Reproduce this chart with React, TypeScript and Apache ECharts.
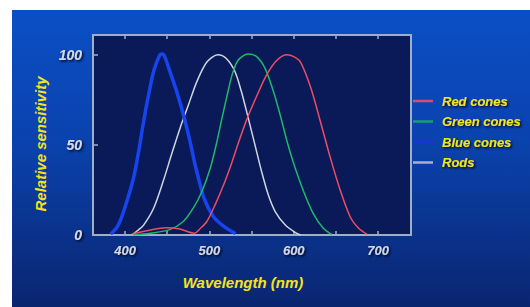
import React, { useEffect, useRef } from "react";
import * as echarts from "echarts";

const seriesNames = ["Red cones", "Green cones", "Blue cones", "Rods"];
const legendColors = ["#dc4a6c", "#1a9c72", "#1a32dc", "#a8b4c4"];
const xTicks = [400, 450, 500, 550, 600, 650, 700];
const xLabels = [400, 500, 600, 700];
const yTicks = [0, 50, 100];

const redCones: number[][] = [
  [408, 0.5], [430, 2.8], [449, 4], [465, 3.3], [482, 1], [490, 4], [497, 7.5], [507, 17],
  [517, 28], [525, 38], [535, 52], [545, 65], [556, 77], [568, 89], [580, 97], [592, 100],
  [600, 99], [608, 96], [620, 82], [631, 64], [643, 43.5], [655, 25], [667, 10], [677, 3.7], [687, 0.3],
];
const greenCones: number[][] = [
  [410, 0], [430, 1], [453, 3], [469, 7.5], [481, 15], [491, 24], [501, 37], [509, 52],
  [515, 65], [521, 77.5], [527, 89], [534, 97], [546, 100.5], [556, 99], [566, 92.5], [576, 79.5],
  [584, 66.5], [592, 52], [600, 39.5], [611, 25], [623, 12], [635, 3.7], [645, 0.3],
];
const blueCones: number[][] = [
  [383, 0.5], [390, 4], [394, 7.5], [402, 18.5], [410, 31.5], [416, 46], [422, 63], [428, 78],
  [434, 91], [441, 99.8], [444, 100.5], [447, 99], [453, 91], [461, 80], [469, 67], [477, 52], [483, 39],
  [489, 28], [494, 20], [505, 10], [518, 4.5], [531, 0.8],
];
const rods: number[][] = [
  [408, 0], [415, 2.5], [422, 5.5], [434, 15], [445, 29.5], [455, 44.5], [465, 59], [475, 72],
  [485, 85], [497, 96], [510, 100], [520, 98], [530, 91], [538, 79.5], [546, 65], [554, 50],
  [562, 35], [570, 22], [578, 13], [590, 5.5], [603, 1], [608, 0],
];

const YELLOW = "#f4e41c";
const LIGHT = "#d4d9e4";
const BORDER = "#9fb0c6";
const shadow = {
  textShadowColor: "rgba(0,0,20,0.9)",
  textShadowBlur: 2,
  textShadowOffsetX: 1.5,
  textShadowOffsetY: 1.5,
};

export default function App() {
  const ref = useRef<HTMLDivElement>(null);
  useEffect(() => {
    if (!ref.current) return;
    const chart = echarts.init(ref.current, null, { renderer: "svg" });
    const font = "Liberation Sans";
    chart.setOption({
      animation: false,
      backgroundColor: {
        type: "linear", x: 0, y: 0, x2: 0, y2: 1,
        colorStops: [
          { offset: 0, color: "#0b4fc6" },
          { offset: 0.45, color: "#0a42ad" },
          { offset: 1, color: "#0a2570" },
        ],
      },
      grid: {
        left: 81, top: 25, width: 318, height: 200,
        show: true, backgroundColor: "#0a1a58", borderColor: BORDER, borderWidth: 2,
      },
      xAxis: [
        {
          type: "value", min: 362, max: 739, position: "bottom",
          axisLine: { show: false },
          splitLine: { show: false },
          axisTick: { show: true, inside: true, length: 4, customValues: xTicks, lineStyle: { color: BORDER, width: 1.5 } },
          axisLabel: {
            customValues: xLabels, margin: 9, color: LIGHT, fontFamily: font,
            fontWeight: "bold", fontStyle: "italic", fontSize: 13, ...shadow,
          },
        },
        {
          type: "value", min: 362, max: 739, position: "top",
          axisLine: { show: false },
          splitLine: { show: false },
          axisTick: { show: true, inside: true, length: 4, customValues: xTicks, lineStyle: { color: BORDER, width: 1.5 } },
          axisLabel: { show: false },
        },
      ],
      yAxis: {
        type: "value", min: 0, max: 111,
        axisLine: { show: false },
        splitLine: { show: false },
        axisTick: { show: true, inside: true, length: 5, customValues: yTicks, lineStyle: { color: BORDER, width: 1.5 } },
        axisLabel: {
          customValues: yTicks, margin: 11, color: LIGHT, fontFamily: font,
          fontWeight: "bold", fontStyle: "italic", fontSize: 14, ...shadow,
        },
      },
      legend: {
        orient: "vertical", left: 396, top: 79.5, itemWidth: 20, itemHeight: 2.5, itemGap: 7.5,
        icon: "rect",
        data: seriesNames.map((name, i) => ({ name, itemStyle: { color: legendColors[i] } })),
        textStyle: {
          color: YELLOW, fontFamily: font, fontWeight: "bold", fontStyle: "italic",
          fontSize: 13, padding: [0, 0, 0, 4], ...shadow,
        },
      },
      graphic: [
        {
          type: "text", x: 28, y: 134, rotation: Math.PI / 2,
          style: {
            text: "Relative sensitivity", fill: YELLOW, font: `italic bold 15px "${font}"`,
            textAlign: "center", textVerticalAlign: "middle",
            shadowColor: "rgba(0,0,20,0.9)", shadowBlur: 2, shadowOffsetX: 1.5, shadowOffsetY: -1.5,
          },
        },
        {
          type: "text", x: 231, y: 272,
          style: {
            text: "Wavelength (nm)", fill: YELLOW, font: `italic bold 15px "${font}"`,
            textAlign: "center", textVerticalAlign: "middle",
            shadowColor: "rgba(0,0,20,0.9)", shadowBlur: 2, shadowOffsetX: 1.5, shadowOffsetY: 1.5,
          },
        },
      ],
      series: [
        { name: "Rods", type: "line", data: rods, symbol: "none", smooth: 0.3, color: "#cfd6de", lineStyle: { width: 1.5, color: "#cfd6de" } },
        { name: "Blue cones", type: "line", data: blueCones, symbol: "none", smooth: 0.3, color: "#1844f0", lineStyle: { width: 3.5, color: "#1844f0" } },
        { name: "Green cones", type: "line", data: greenCones, symbol: "none", smooth: 0.3, color: "#1fb866", lineStyle: { width: 1.5, color: "#1fb866" } },
        { name: "Red cones", type: "line", data: redCones, symbol: "none", smooth: 0.3, color: "#ee4c62", lineStyle: { width: 1.5, color: "#ee4c62" } },
      ],
    });
    return () => chart.dispose();
  }, []);
  return (
    <div
      ref={ref}
      style={{ position: "absolute", left: 12, top: 10, width: 518, height: 297 }}
    />
  );
}
